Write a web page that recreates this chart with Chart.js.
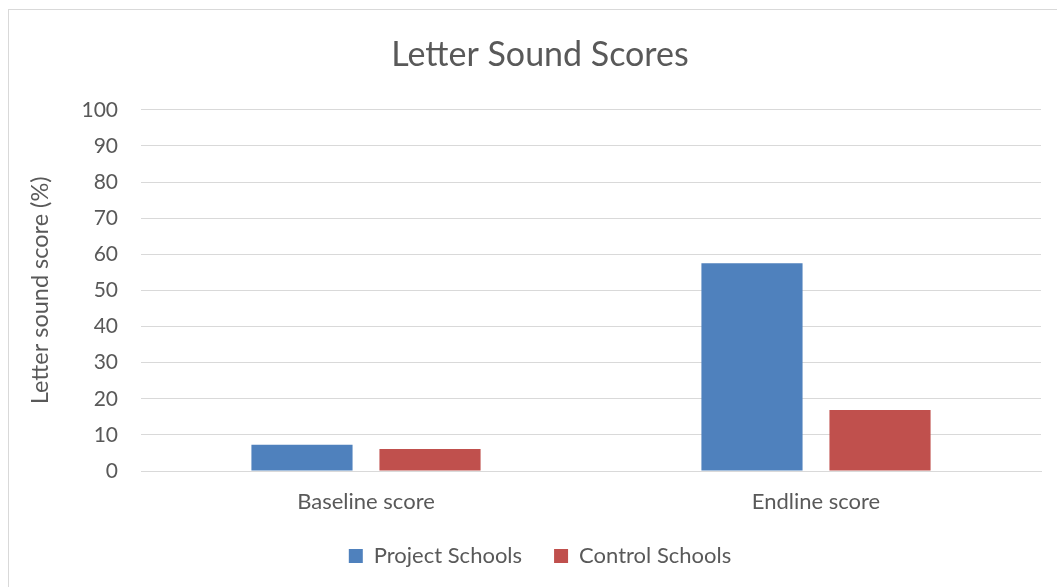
<!DOCTYPE html>
<html>
<head>
<meta charset="utf-8">
<script src="https://cdn.jsdelivr.net/npm/chart.js@4.4.0/dist/chart.umd.min.js"></script>
<style>
  html, body { margin: 0; padding: 0; background: #fff; overflow: hidden; }
  #wrap { width: 1080px; height: 600px; }
</style>
</head>
<body>
<div id="wrap"><canvas id="myChart" width="1080" height="600"></canvas></div>
<script>
const categories = ['Baseline score', 'Endline score'];
const projectScores = [7.3, 57.5];
const controlScores = [6.1, 16.9];
const yMin = 0;
const yMax = 100;
const yStep = 10;

const textColor = '#595959';
const gridColor = '#D9D9D9';
const fontFamily = 'Lato, "Open Sans", sans-serif';

// outer frame of the chart, like the Excel chart area border
const framePlugin = {
    id: 'frame',
    beforeDraw(chart) {
        const ctx = chart.ctx;
        ctx.save();
        ctx.fillStyle = '#fff';
        ctx.fillRect(0, 0, chart.width, chart.height);
        ctx.strokeStyle = gridColor;
        ctx.lineWidth = 1;
        ctx.strokeRect(8.5, 9.5, 1063, 584);
        ctx.restore();
    }
};

const data = {
    labels: categories,
    datasets: [{
        label: 'Project Schools',
        data: projectScores,
        backgroundColor: '#4F81BD',
        borderWidth: 0,
        categoryPercentage: 0.569,
        barPercentage: 0.79
    }, {
        label: 'Control Schools',
        data: controlScores,
        backgroundColor: '#C0504D',
        borderWidth: 0,
        categoryPercentage: 0.569,
        barPercentage: 0.79
    }]
};

const config = {
    type: 'bar',
    data: data,
    plugins: [framePlugin],
    options: {
        responsive: false,
        animation: false,
        layout: {
            padding: { left: 8, right: 8, top: 0, bottom: 23 }
        },
        plugins: {
            title: {
                display: true,
                text: 'Letter Sound Scores',
                color: textColor,
                font: { family: fontFamily, size: 34, weight: 'normal' },
                padding: { top: 35, bottom: 34 }
            },
            legend: {
                position: 'bottom',
                labels: {
                    color: textColor,
                    font: { family: fontFamily, size: 22 },
                    boxWidth: 14,
                    boxHeight: 14,
                    padding: 32
                }
            },
            tooltip: { enabled: false }
        },
        scales: {
            x: {
                grid: { display: false },
                border: { display: true, color: gridColor },
                ticks: {
                    color: textColor,
                    font: { family: fontFamily, size: 22 },
                    padding: 10
                },
                afterFit: function(scale) { scale.height = 42; }
            },
            y: {
                min: yMin,
                max: yMax,
                ticks: {
                    stepSize: yStep,
                    color: textColor,
                    font: { family: fontFamily, size: 21 },
                    padding: 23
                },
                grid: { color: gridColor, lineWidth: 1, drawTicks: false },
                border: { display: false },
                title: {
                    display: true,
                    text: 'Letter sound score (%)',
                    color: textColor,
                    font: { family: fontFamily, size: 23.5 },
                    padding: { top: 18, bottom: 0 }
                },
                afterFit: function(scale) { scale.width = 133; }
            },
            y2: {
                position: 'right',
                display: true,
                grid: { display: false },
                border: { display: false },
                ticks: { display: false },
                afterFit: function(scale) { scale.width = 31; }
            }
        }
    }
};

const myChart = new Chart(
    document.getElementById('myChart'),
    config
);
</script>
</body>
</html>
